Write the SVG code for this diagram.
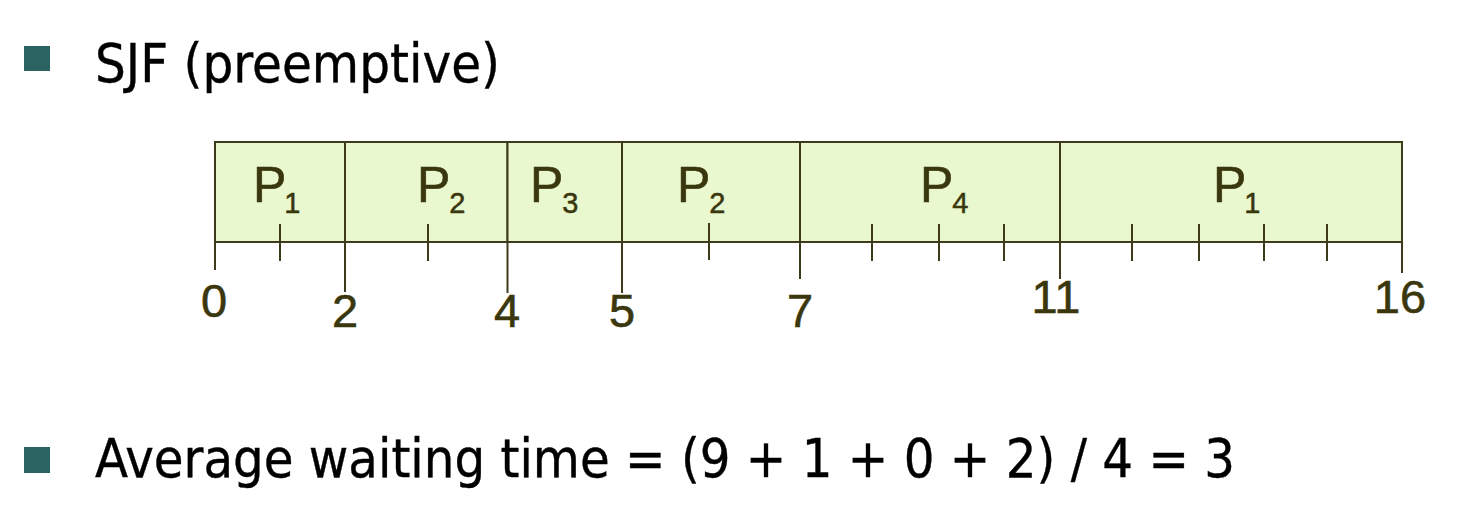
<svg xmlns="http://www.w3.org/2000/svg" width="1478" height="532" viewBox="0 0 1478 532">
<style>
.bullet{fill:#2b6363}
.head{font-family:"DejaVu Sans","Verdana",sans-serif;font-size:53px;fill:#000;stroke:#000;stroke-width:0.4}
.cell{fill:#e9f8ce;stroke:#3d3b1c;stroke-width:2}
.ln{stroke:#3d3b1c;stroke-width:2;fill:none}
.p{font-family:"Liberation Sans",Arial,sans-serif;font-size:50px;fill:#3a370e;stroke:#3a370e;stroke-width:0.6}
.sub{font-family:"Liberation Sans",Arial,sans-serif;font-size:29px;fill:#3a370e;stroke:#3a370e;stroke-width:0.5}
.num{font-family:"Liberation Sans",Arial,sans-serif;font-size:47px;fill:#3a370e;stroke:#3a370e;stroke-width:0.6;text-anchor:middle}
</style>
<rect class="bullet" x="24" y="46" width="26" height="25"/>
<text class="head" x="95" y="82" textLength="405" lengthAdjust="spacingAndGlyphs">SJF (preemptive)</text>

<g id="gantt">
<g id="cell-p1a"><rect class="cell" x="215" y="142" width="130" height="100"/><text x="253" y="202"><tspan class="p">P</tspan><tspan class="sub" dx="-2" y="213">1</tspan></text></g>
<g id="cell-p2a"><rect class="cell" x="345" y="142" width="162.5" height="100"/><text x="417" y="202"><tspan class="p">P</tspan><tspan class="sub" dx="-1" y="213">2</tspan></text></g>
<g id="cell-p3"><rect class="cell" x="507.5" y="142" width="114.5" height="100"/><text x="530" y="202"><tspan class="p">P</tspan><tspan class="sub" dx="-1" y="213">3</tspan></text></g>
<g id="cell-p2b"><rect class="cell" x="622" y="142" width="178" height="100"/><text x="677" y="202"><tspan class="p">P</tspan><tspan class="sub" dx="-1" y="213">2</tspan></text></g>
<g id="cell-p4"><rect class="cell" x="800" y="142" width="260" height="100"/><text x="920" y="202"><tspan class="p">P</tspan><tspan class="sub" dx="-1" y="213">4</tspan></text></g>
<g id="cell-p1b"><rect class="cell" x="1060" y="142" width="342" height="100"/><text x="1213" y="202"><tspan class="p">P</tspan><tspan class="sub" dx="-2" y="213">1</tspan></text></g>
</g>

<g id="ticks" class="ln">
<line x1="215" y1="242" x2="215" y2="270"/>
<line x1="345" y1="242" x2="345" y2="292"/>
<line x1="507.5" y1="242" x2="507.5" y2="293"/>
<line x1="622" y1="242" x2="622" y2="293"/>
<line x1="800" y1="242" x2="800" y2="279"/>
<line x1="1060" y1="242" x2="1060" y2="279"/>
<line x1="1402" y1="242" x2="1402" y2="273"/>
<line x1="280" y1="224" x2="280" y2="261"/>
<line x1="428" y1="224" x2="428" y2="261"/>
<line x1="709" y1="223" x2="709" y2="260"/>
<line x1="872" y1="224" x2="872" y2="261"/>
<line x1="939" y1="224" x2="939" y2="261"/>
<line x1="1004" y1="224" x2="1004" y2="261"/>
<line x1="1132" y1="224" x2="1132" y2="261"/>
<line x1="1199" y1="224" x2="1199" y2="261"/>
<line x1="1264" y1="224" x2="1264" y2="261"/>
<line x1="1327" y1="224" x2="1327" y2="261"/>
</g>

<g id="labels">
<text class="num" x="214" y="317">0</text>
<text class="num" x="345" y="327">2</text>
<text class="num" x="507" y="327">4</text>
<text class="num" x="622" y="327">5</text>
<text class="num" x="800" y="327">7</text>
<text class="num" x="1056" y="313">11</text>
<text class="num" x="1400" y="313">16</text>
</g>

<rect class="bullet" x="24" y="447" width="26" height="26"/>
<text class="head" x="95" y="477" textLength="1140" lengthAdjust="spacingAndGlyphs">Average waiting time = (9 + 1 + 0 + 2) / 4 = 3</text>
</svg>
